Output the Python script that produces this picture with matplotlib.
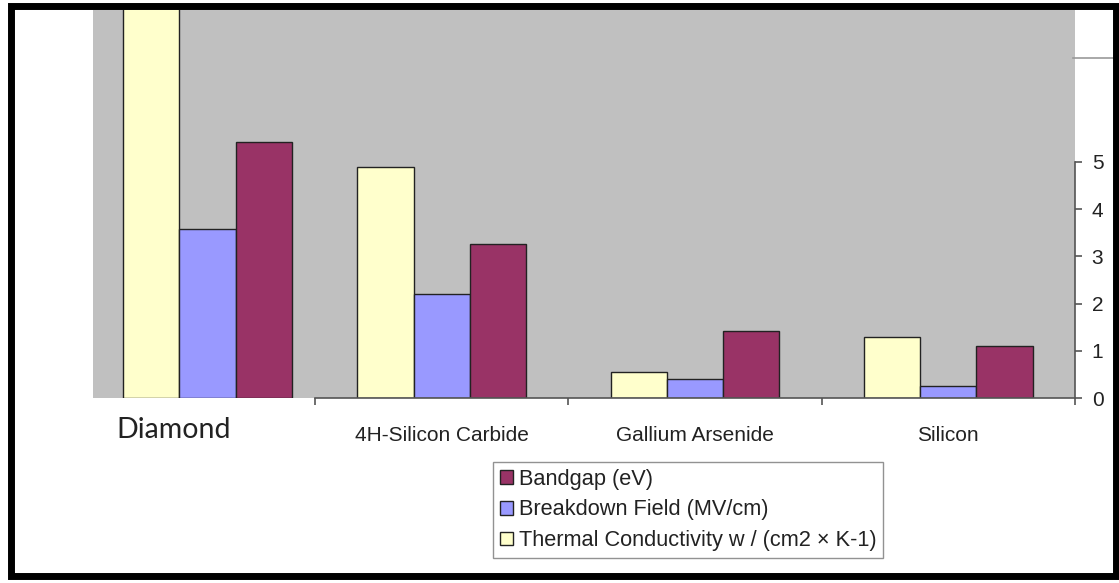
import matplotlib
matplotlib.use("Agg")
import matplotlib.pyplot as plt
import numpy as np
from matplotlib.patches import Rectangle, Patch
from matplotlib.lines import Line2D

categories = ["Diamond", "4H-Silicon Carbide", "Gallium Arsenide", "Silicon"]
thermal = [22.0, 4.9, 0.55, 1.3]
breakdown = [3.58, 2.2, 0.4, 0.25]
bandgap = [5.42, 3.27, 1.42, 1.1]
series_names = ["Thermal Conductivity w / (cm2 \u00d7 K-1)", "Breakdown Field (MV/cm)", "Bandgap (eV)"]
colors = ["#FFFFCC", "#9999FF", "#993366"]
yticks = [0, 1, 2, 3, 4, 5]

W, H = 1119, 583
fig = plt.figure(figsize=(W / 100, H / 100), dpi=100)
fig.patch.set_facecolor("white")

ax = fig.add_axes([93 / W, (H - 398) / H, (1075 - 93) / W, 388 / H])
ax.set_facecolor("#C0C0C0")

x = np.arange(len(categories), dtype=float)
x[0] += 0.075  # diamond group shifted as in the reference
bw = 0.222
for k, (vals, c) in enumerate(zip([thermal, breakdown, bandgap], colors)):
    ax.bar(x + (k - 1) * bw, vals, width=bw, color=c, edgecolor="#222222",
           linewidth=1.0, zorder=3)

ax.set_xlim(-0.377, 3.5)
ax.set_ylim(0, 8.22)

for s in ["top", "left"]:
    ax.spines[s].set_visible(False)
ax.spines["right"].set_bounds(0, 5)
ax.spines["bottom"].set_bounds(0.5, 3.5)
for s in ["right", "bottom"]:
    ax.spines[s].set_color("#555555")
    ax.spines[s].set_linewidth(1.2)
    ax.spines[s].set_zorder(4)

tick_font = {"family": "Liberation Sans", "size": 15}
ax.yaxis.tick_right()
ax.set_yticks(yticks)
ax.set_yticklabels([str(t) for t in yticks], color="#222222", **tick_font)
ax.tick_params(axis="y", direction="out", length=5, width=1.2, color="#555555", pad=7)

ax.set_xticks([0.5, 1.5, 2.5, 3.5])
ax.set_xticklabels([])
ax.tick_params(axis="x", which="major", direction="out", length=5, width=1.2, color="#555555")
ax.set_xticks(x[1:], minor=True)
ax.set_xticklabels(categories[1:], minor=True, color="#222222", **tick_font)
ax.tick_params(axis="x", which="minor", length=0, pad=20)

ax.text(-0.057, -0.083, categories[0], transform=ax.get_xaxis_transform(),
        ha="center", va="center", fontsize=20.5, family="Lato", color="#222222")

handles = [Patch(facecolor=colors[i], edgecolor="#222222", linewidth=1.0) for i in [2, 1, 0]]
labels = [series_names[i] for i in [2, 1, 0]]
leg = fig.legend(handles, labels, loc="upper left",
                 bbox_to_anchor=(493 / W, 1 - 462 / H), frameon=True, fancybox=False,
                 prop={"family": "Liberation Sans", "size": 15.7},
                 handlelength=0.6, handleheight=0.6, handletextpad=0.3,
                 labelspacing=0.45, borderpad=0.3, borderaxespad=0)
leg.get_frame().set_edgecolor("#777777")
leg.get_frame().set_linewidth(1.0)
for t in leg.get_texts():
    t.set_color("#222222")

# stray line at the top right
fig.add_artist(Line2D([1073 / W, 1.0], [1 - 58 / H, 1 - 58 / H], color="#999999", linewidth=1.2))

# black frame around the figure
fig.add_artist(Rectangle((11 / W, 7 / H), (1116 - 11) / W, (577 - 7) / H,
                         transform=fig.transFigure, fill=False, edgecolor="black",
                         linewidth=5, zorder=10))

fig.savefig("out.png", dpi=100)
